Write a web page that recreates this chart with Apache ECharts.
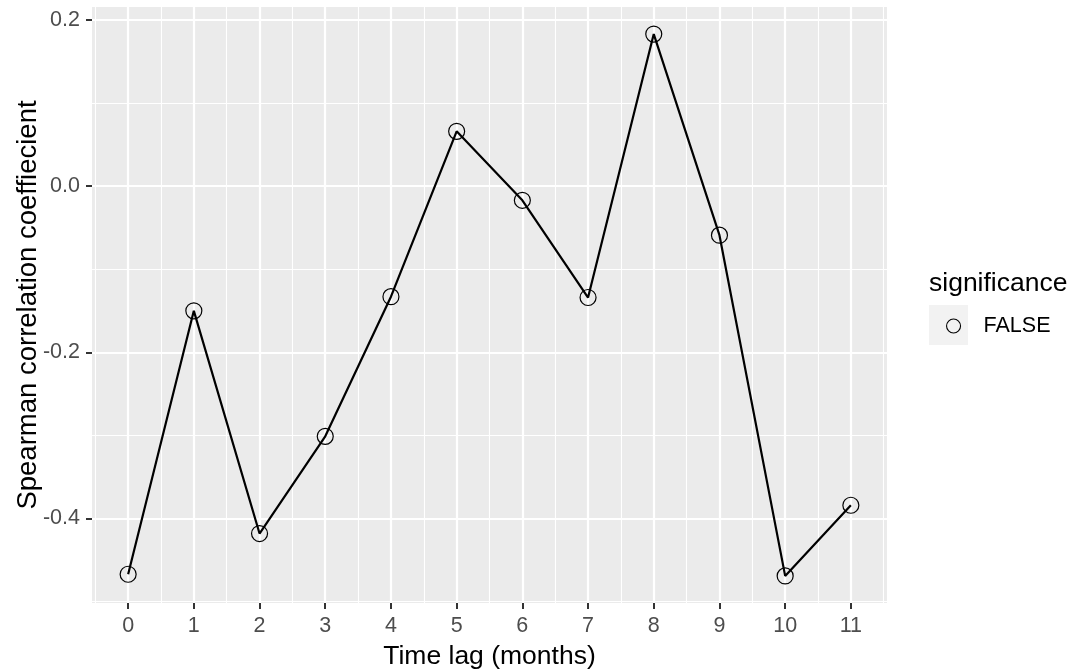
<!DOCTYPE html>
<html>
<head>
<meta charset="utf-8">
<script src="https://cdn.jsdelivr.net/npm/echarts@6/dist/echarts.min.js"></script>
<style>
  html, body { margin: 0; padding: 0; background: #ffffff; }
  #chart { width: 1076px; height: 671px; }
</style>
</head>
<body>
<div id="chart"></div>
<script>
// Time lag (months) and the Spearman correlation at each lag
const lags = [0, 1, 2, 3, 4, 5, 6, 7, 8, 9, 10, 11];
const rho = [-0.467, -0.150, -0.418, -0.301, -0.133, 0.066, -0.017, -0.134, 0.183, -0.059, -0.469, -0.384];
const significance = ['FALSE'];

// Axis breaks
const xMajor = [0, 1, 2, 3, 4, 5, 6, 7, 8, 9, 10, 11];
const xMinor = [-0.5, 0.5, 1.5, 2.5, 3.5, 4.5, 5.5, 6.5, 7.5, 8.5, 9.5, 10.5, 11.5];
const yMajor = [-0.4, -0.2, 0.0, 0.2];
const yMinor = [-0.5, -0.3, -0.1, 0.1];

const FONT = 'Liberation Sans, Arial, sans-serif';
const points = lags.map((x, i) => [x, rho[i]]);

// Padded limits around the data range (5% on each side)
const xSpan = Math.max(...lags) - Math.min(...lags);
const xMin = Math.min(...lags) - xSpan * 0.05;
const xMax = Math.max(...lags) + xSpan * 0.05;
const ySpan = Math.max(...rho) - Math.min(...rho);
const yMin = Math.min(...rho) - ySpan * 0.05;
const yMax = Math.max(...rho) + ySpan * 0.05;

const chart = echarts.init(document.getElementById('chart'), null, { renderer: 'canvas' });

const minorAxis = (vals) => ({
  type: 'value',
  axisLine: { show: false, onZero: false },
  axisTick: { show: false, customValues: vals },
  axisLabel: { show: false, customValues: vals },
  splitLine: { show: true, lineStyle: { color: '#ffffff', width: 1.1 } }
});

chart.setOption({
  animation: false,
  backgroundColor: '#ffffff',
  grid: {
    left: 92, right: 189, top: 7, bottom: 68,
    containLabel: false,
    outerBoundsMode: 'none',
    show: true, backgroundColor: '#EBEBEB', borderWidth: 0
  },
  title: {
    text: 'significance',
    left: 924, top: 265,
    textStyle: { fontFamily: FONT, fontSize: 26.5, fontWeight: 'normal', color: '#000000' }
  },
  legend: {
    left: 941, top: 310,
    orient: 'vertical',
    itemWidth: 14, itemHeight: 14,
    data: significance.map(name => ({
      name: name,
      icon: 'circle',
      itemStyle: { color: 'rgba(0,0,0,0)', borderColor: '#000000', borderWidth: 1.1 }
    })),
    textStyle: { fontFamily: FONT, fontSize: 21.5, color: '#000000', padding: [0, 0, 0, 18] },
    selectedMode: false
  },
  graphic: [{
    type: 'rect', z: -1,
    shape: { x: 929, y: 305, width: 39, height: 40 },
    style: { fill: '#F2F2F2' }
  }],
  xAxis: [
    {
      type: 'value', min: xMin, max: xMax, position: 'bottom',
      name: 'Time lag (months)', nameLocation: 'middle', nameGap: 40, nameMoveOverlap: false,
      nameTextStyle: { fontFamily: FONT, fontSize: 26.5, color: '#000000' },
      axisLine: { show: false, onZero: false },
      axisTick: { show: true, length: 6, customValues: xMajor, lineStyle: { color: '#333333', width: 2 } },
      axisLabel: { customValues: xMajor, margin: 12, fontFamily: FONT, fontSize: 21.5, color: '#4D4D4D' },
      splitLine: { show: true, lineStyle: { color: '#ffffff', width: 2.2 } },
      z: 1
    },
    Object.assign({ min: xMin, max: xMax, position: 'bottom', z: 0 }, minorAxis(xMinor))
  ],
  yAxis: [
    {
      type: 'value', min: yMin, max: yMax, position: 'left',
      name: 'Spearman correlation coeffiecient', nameLocation: 'middle', nameGap: 50, nameRotate: 90,
      nameMoveOverlap: false,
      nameTextStyle: { fontFamily: FONT, fontSize: 27.5, color: '#000000' },
      axisLine: { show: false, onZero: false },
      axisTick: { show: true, length: 6, customValues: yMajor, lineStyle: { color: '#333333', width: 2 } },
      axisLabel: {
        customValues: yMajor, margin: 12, fontFamily: FONT, fontSize: 21.5, color: '#4D4D4D',
        formatter: v => v.toFixed(1)
      },
      splitLine: { show: true, lineStyle: { color: '#ffffff', width: 2.2 } },
      z: 1
    },
    Object.assign({ min: yMin, max: yMax, position: 'left', z: 0 }, minorAxis(yMinor))
  ],
  series: [{
    name: 'FALSE',
    type: 'line',
    xAxisIndex: 0, yAxisIndex: 0,
    data: points,
    symbol: 'circle',
    symbolSize: 16,
    showAllSymbol: true,
    itemStyle: { color: 'rgba(0,0,0,0)', borderColor: '#000000', borderWidth: 1.2 },
    lineStyle: { color: '#000000', width: 2.2 },
    emphasis: { disabled: true },
    z: 3
  }]
});
</script>
</body>
</html>
